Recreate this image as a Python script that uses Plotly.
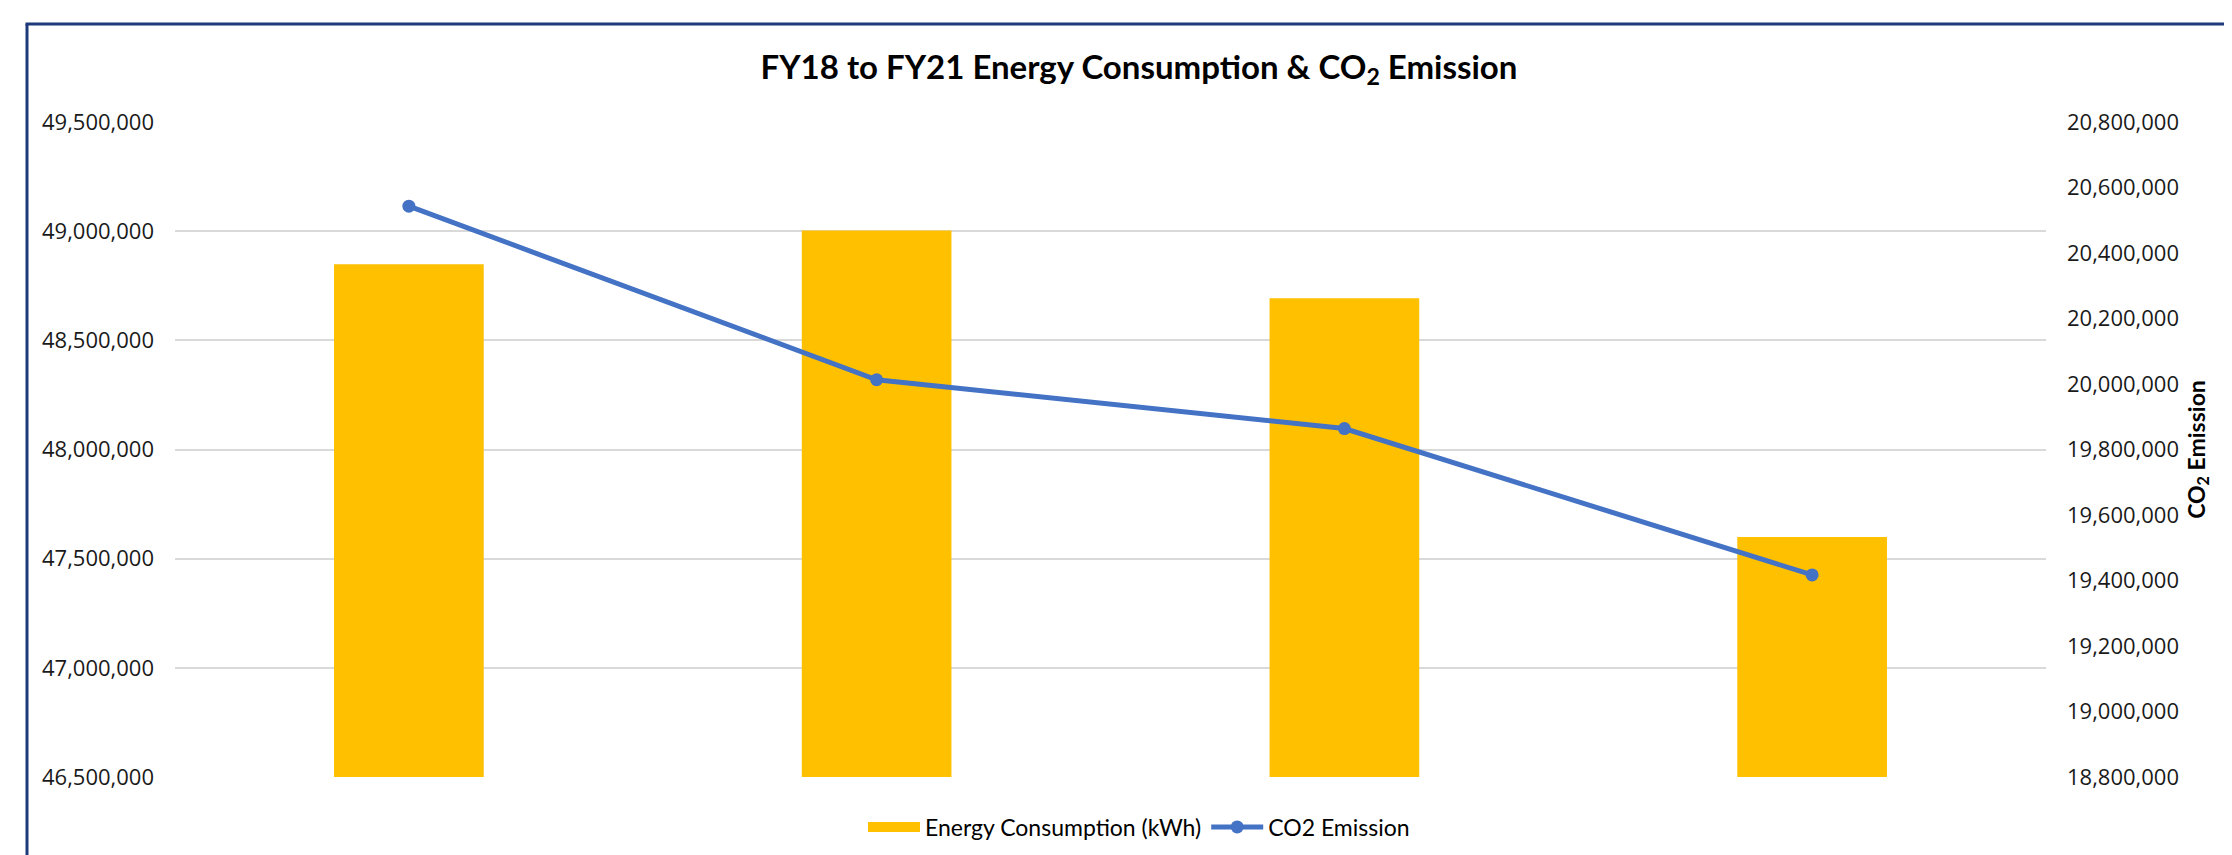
import plotly.graph_objects as go

categories = ["FY18", "FY19", "FY20", "FY21"]
energy_kwh = [48848000, 49003000, 48693000, 47599000]
co2_emission = [20543000, 20013000, 19864000, 19417000]

left_ticks = [46500000, 47000000, 47500000, 48000000, 48500000, 49000000, 49500000]
right_ticks = [18800000 + 200000 * i for i in range(11)]

W, H = 2232, 855
L, T = 167, 114
pw, ph = 1871, 655
R = W - L - pw
B = H - T - ph

def px_x(x):
    return (x - L) / pw

def px_y(y):
    return (H - B - y) / ph

fig = go.Figure()
fig.add_trace(go.Bar(
    x=categories, y=energy_kwh, name="Energy Consumption (kWh)",
    marker=dict(color="#FFC000", line=dict(width=0)), width=0.32, yaxis="y",
    legendgroup="energy", showlegend=False,
))
# legend entry with a wide swatch for the bars
fig.add_trace(go.Scatter(
    x=[None], y=[None], name="Energy Consumption (kWh)", mode="lines",
    line=dict(color="#FFC000", width=20), legendgroup="energy",
    showlegend=True, hoverinfo="skip",
))
fig.add_trace(go.Scatter(
    x=categories, y=co2_emission, name="CO2 Emission", yaxis="y2",
    mode="lines+markers", line=dict(color="#4472C4", width=5),
    marker=dict(color="#4472C4", size=13),
))

border = "#1F3A7A"
fig.add_shape(type="line", xref="paper", yref="paper",
              x0=px_x(19), x1=px_x(19), y0=px_y(900), y1=px_y(16),
              line=dict(color=border, width=3), layer="above")
fig.add_shape(type="line", xref="paper", yref="paper",
              x0=px_x(17.5), x1=px_x(2300), y0=px_y(16), y1=px_y(16),
              line=dict(color=border, width=3), layer="above")

fig.update_layout(
    width=W, height=H,
    margin=dict(l=L, r=R, t=T, b=B, autoexpand=False),
    paper_bgcolor="white", plot_bgcolor="white",
    title=dict(
        text="<b>FY18 to FY21 Energy Consumption & CO<sub>2</sub> Emission</b>",
        x=1131 / W, xref="container", xanchor="center",
        y=1 - 59 / H, yref="container", yanchor="middle",
        font=dict(family="Lato", size=33, color="#000000"),
    ),
    xaxis=dict(showticklabels=False, showgrid=False, zeroline=False,
               showline=False, ticks=""),
    yaxis=dict(range=[46500000, 49500000], tickvals=left_ticks,
               tickformat=",d", showgrid=True, gridcolor="#D9D9D9",
               gridwidth=2, zeroline=False, showline=False, ticks="",
               ticklabelstandoff=20,
               tickfont=dict(family="Open Sans", size=22, color="#1A1A1A")),
    yaxis2=dict(range=[18800000, 20800000], tickvals=right_ticks,
                tickformat=",d", overlaying="y", side="right",
                showgrid=False, zeroline=False, showline=False, ticks="",
                ticklabelstandoff=20,
                tickfont=dict(family="Open Sans", size=22, color="#1A1A1A"),
                title=dict(text="<b>CO<sub>2</sub> Emission</b>", standoff=10,
                           font=dict(family="Lato", size=23, color="#000000"))),
    legend=dict(orientation="h", xref="container", yref="container",
                x=1131 / W, xanchor="center", y=1 - 819 / H, yanchor="middle",
                font=dict(family="Lato", size=23, color="#000000"),
                itemwidth=52, tracegroupgap=0),
    showlegend=True,
)

fig.write_html("out.html")
